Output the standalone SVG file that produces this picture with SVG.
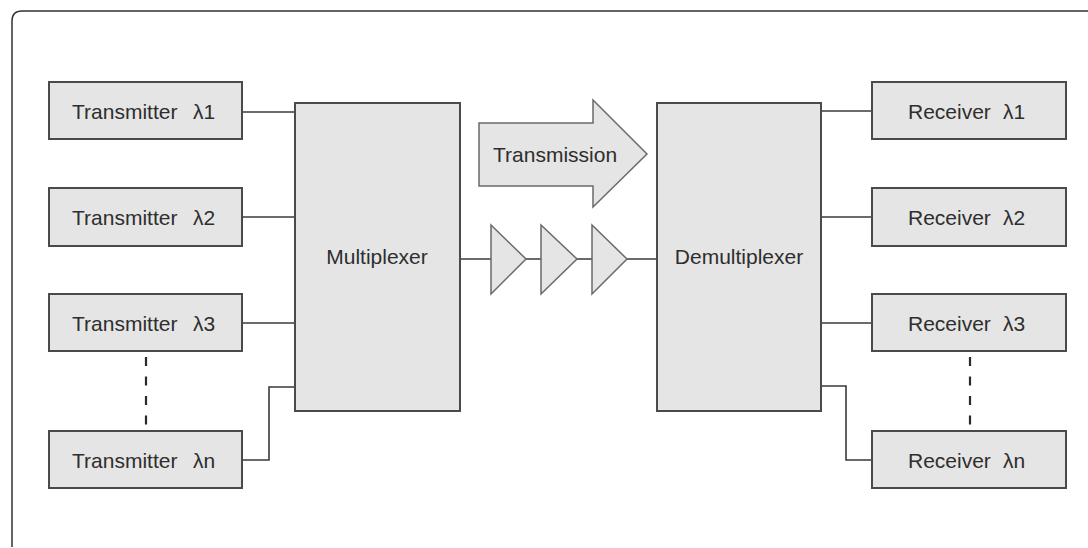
<svg xmlns="http://www.w3.org/2000/svg" width="1088" height="548" viewBox="0 0 1088 548">
<style>
.box{fill:#e5e5e5;stroke:#4a4a4a;stroke-width:2}
.lbl{font-family:"Liberation Sans",Arial,sans-serif;font-size:21px;fill:#2e2e2e}
.c{text-anchor:middle}
.wire{fill:none;stroke:#3a3a3a;stroke-width:1.6}
.dash{fill:none;stroke:#2a2a2a;stroke-width:2.2;stroke-dasharray:9 10.5}
.amp{fill:#e5e5e5;stroke:#6a6a6a;stroke-width:1.5}
</style>
<rect width="1088" height="548" fill="#fff"/>
<path d="M12,547 V21 Q12,11 22,11 H1088" fill="none" stroke="#333" stroke-width="1.5"/>

<g id="connectors">
<path class="wire" d="M242,112 H295"/>
<path class="wire" d="M242,217 H295"/>
<path class="wire" d="M242,323 H295"/>
<path class="wire" d="M242,460 H269 V387 H295"/>
<path class="wire" d="M821,111 H872"/>
<path class="wire" d="M821,217 H872"/>
<path class="wire" d="M821,323 H872"/>
<path class="wire" d="M821,386 H846 V460 H872"/>
<path class="wire" d="M460,259 H491 M526,259 H541 M577,259 H592 M627,259 H657"/>
<path class="dash" d="M146,357 V426"/>
<path class="dash" d="M970,357 V426"/>
</g>

<g id="tx1"><rect class="box" x="49" y="82" width="193" height="57"/><text class="lbl" y="119"><tspan x="72">Transmitter</tspan><tspan x="193">λ1</tspan></text></g>
<g id="tx2"><rect class="box" x="49" y="188" width="193" height="58"/><text class="lbl" y="225"><tspan x="72">Transmitter</tspan><tspan x="193">λ2</tspan></text></g>
<g id="tx3"><rect class="box" x="49" y="294" width="193" height="57"/><text class="lbl" y="331"><tspan x="72">Transmitter</tspan><tspan x="193">λ3</tspan></text></g>
<g id="txn"><rect class="box" x="49" y="431" width="193" height="57"/><text class="lbl" y="468"><tspan x="72">Transmitter</tspan><tspan x="193">λn</tspan></text></g>

<g id="mux"><rect class="box" x="295" y="103" width="165" height="308"/><text class="lbl c" x="377" y="264">Multiplexer</text></g>
<g id="demux"><rect class="box" x="657" y="103" width="164" height="308"/><text class="lbl c" x="739" y="264">Demultiplexer</text></g>

<g id="transmission"><polygon class="amp" points="479,123 593,123 593,100 647,154 593,207 593,186 479,186"/><text class="lbl" x="493" y="162">Transmission</text></g>

<g id="amp1"><polygon class="amp" points="491,225 526,259 491,294"/></g>
<g id="amp2"><polygon class="amp" points="541,225 577,259 541,294"/></g>
<g id="amp3"><polygon class="amp" points="592,225 627,259 592,294"/></g>

<g id="rx1"><rect class="box" x="872" y="82" width="194" height="57"/><text class="lbl" y="119"><tspan x="908">Receiver</tspan><tspan x="1003">λ1</tspan></text></g>
<g id="rx2"><rect class="box" x="872" y="188" width="194" height="58"/><text class="lbl" y="225"><tspan x="908">Receiver</tspan><tspan x="1003">λ2</tspan></text></g>
<g id="rx3"><rect class="box" x="872" y="294" width="194" height="57"/><text class="lbl" y="331"><tspan x="908">Receiver</tspan><tspan x="1003">λ3</tspan></text></g>
<g id="rxn"><rect class="box" x="872" y="431" width="194" height="57"/><text class="lbl" y="468"><tspan x="908">Receiver</tspan><tspan x="1003">λn</tspan></text></g>
</svg>
